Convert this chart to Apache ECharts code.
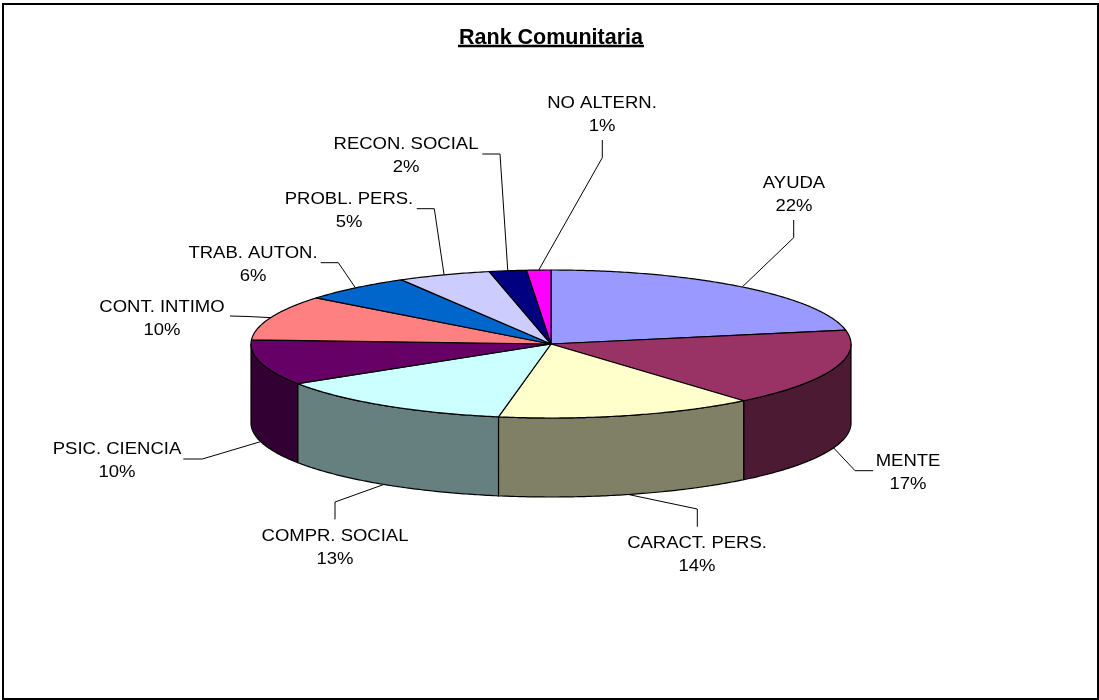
<!DOCTYPE html>
<html><head><meta charset="utf-8">
<style>html,body{margin:0;padding:0;background:#fff}#c{width:1099px;height:700px}</style>
<script src="https://cdn.jsdelivr.net/npm/echarts@6/dist/echarts.min.js"></script>
</head><body><div id="c"></div>
<script>
const categories = ['AYUDA','MENTE','CARACT. PERS.','COMPR. SOCIAL','PSIC. CIENCIA','CONT. INTIMO','TRAB. AUTON.','PROBL. PERS.','RECON. SOCIAL','NO ALTERN.'];
const shares = [22.0,16.9,13.9,13.2,9.9,9.8,6.0,5.0,2.0,1.3];
const topColors = ['#9999FF','#993366','#FFFFCC','#CCFFFF','#660066','#FF8080','#0066CC','#CCCCFF','#000080','#FF00FF'];
const sideColors = ['#4D4D80','#4D1A33','#808066','#668080','#330033','#804040','#003366','#666680','#000040','#800080'];
// label placement (pixel layout, not data): label centre x, first-line y
const labelCentres = [[794,183],[908,461],[697,543],[335,536],[117,449],[162,307],[253,253],[349,199],[406,144],[602,103]];
// leader line: free end, elbow
const leaderPaths = [
  [[793.7,220],[793.7,237.7]],
  [[873.3,470.7],[855,470.7]],
  [[697.3,526.7],[697.3,509]],
  [[335,519.3],[335,502]],
  [[183.3,459],[202.3,459]],
  [[230,316],[248,316.5]],
  [[320.7,262.7],[338.3,262.7]],
  [[416.7,208.7],[434.3,208.7]],
  [[482.3,154],[500,154]],
  [[602.3,140],[602.3,157.7]]
];
const depth = 79;
const total = shares.reduce((a,b)=>a+b,0);
const starts = []; shares.reduce((a,b,i)=>{starts[i]=a;return a+b;},0);
const toAngle = v => v/total*2*Math.PI;

function renderSlice(params, api){
  const i = api.value(0), v = api.value(1);
  const a0 = toAngle(starts[i]), a1 = toAngle(starts[i]+v);
  const pt = a => api.coord([Math.sin(a), Math.cos(a)]);
  const arc = (s,e) => {
    const n = Math.max(2, Math.ceil((e-s)/0.01)), out = [];
    for(let k=0;k<=n;k++) out.push(pt(s+(e-s)*k/n));
    return out;
  };
  const children = [];
  const lineStyle = {stroke:'#000',lineWidth:1.2,lineJoin:'round'};
  // visible wall: the part of the rim on the front half of the ellipse
  const s = Math.max(a0, Math.PI/2), e = Math.min(a1, 3*Math.PI/2);
  if(e > s){
    const rim = arc(s,e);
    const low = rim.slice().reverse().map(p=>[p[0],p[1]+depth]);
    children.push({type:'polygon',z2:1,shape:{points:rim.concat(low)},style:Object.assign({fill:sideColors[i]},lineStyle)});
  }
  children.push({type:'polygon',z2:2,shape:{points:[api.coord([0,0])].concat(arc(a0,a1))},style:Object.assign({fill:topColors[i]},lineStyle)});
  // leader line to the slice's mid-angle on the outer edge
  const mid = (a0+a1)/2;
  const anchor = pt(mid);
  if(Math.cos(mid) < 0) anchor[1] += depth;
  children.push({type:'polyline',z2:0,shape:{points:leaderPaths[i].concat([anchor])},style:{fill:null,stroke:'#000',lineWidth:1}});
  const c = labelCentres[i];
  children.push({type:'text',z2:3,x:c[0],y:c[1]-11,scaleX:1.07,style:{
    text:categories[i]+'\n'+Math.round(v/total*100)+'%',
    font:'17.3px "Liberation Sans", Arial, sans-serif',fill:'#000',align:'center',verticalAlign:'top',lineHeight:23
  }});
  return {type:'group',children};
}

const chart = echarts.init(document.getElementById('c'), null, {renderer:'canvas',width:1099,height:700});
chart.setOption({
  animation:false,
  backgroundColor:'#fff',
  title:{text:'Rank Comunitaria',left:546,top:22,textAlign:'center',
    textStyle:{fontFamily:'"Liberation Sans", Arial, sans-serif',fontWeight:'bold',fontSize:21.5,color:'#000'}},
  grid:{left:251,top:270,width:600,height:148,containLabel:false},
  xAxis:{type:'value',min:-1,max:1,show:false},
  yAxis:{type:'value',min:-1,max:1,show:false},
  graphic:[
    {type:'rect',z:-1,silent:true,shape:{x:3,y:4,width:1095,height:695},style:{fill:'#fff',stroke:'#000',lineWidth:2}},
    {type:'line',silent:true,shape:{x1:458,y1:46,x2:644,y2:46},style:{stroke:'#000',lineWidth:2.5}}
  ],
  series:[{
    type:'custom',coordinateSystem:'cartesian2d',clip:false,silent:true,
    renderItem:renderSlice,
    encode:{x:0,y:1},
    data:categories.map((c,i)=>({name:c,value:[i,shares[i]]}))
  }]
});
</script></body></html>
